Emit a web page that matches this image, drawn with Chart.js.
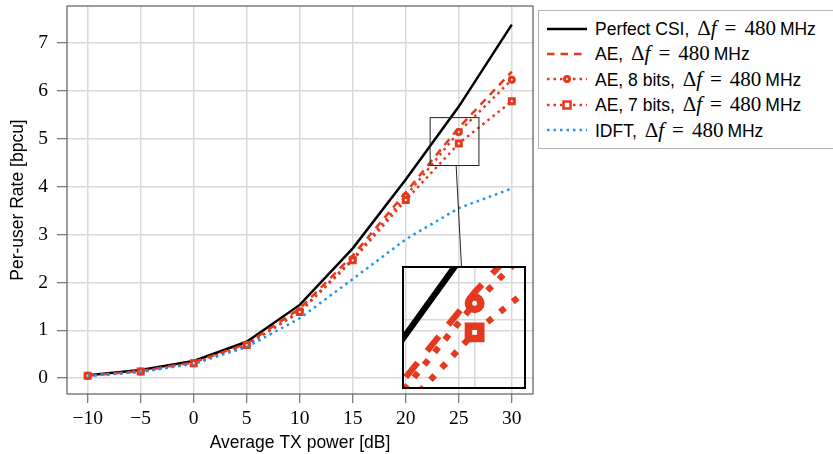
<!DOCTYPE html>
<html lang="en">
<head>
<meta charset="UTF-8" />
<title>Per-user Rate vs Average TX power</title>
<script src="https://cdn.jsdelivr.net/npm/chart.js"></script>
<style>
  body { margin: 0; width: 833px; height: 454px; overflow: hidden; background: #fff; position: relative; }
  #main { position: absolute; left: 0; top: 0; }
  #zoom { position: absolute; left: 401px; top: 265px; }
  #legend { position: absolute; left: 538px; top: 10px; width: 320px; height: 137px;
            border: 1px solid #b4b4b4; background: #fff;
            font-family: "Liberation Sans", Arial, sans-serif; font-size: 17.5px; color: #000; }
  .row { position: absolute; left: 0; height: 25px; display: flex; align-items: center; white-space: nowrap; }
  .row svg { margin-left: 8px; margin-right: 8px; }
  .m { font-family: "Liberation Serif", serif; font-size: 21px; margin-left: 3px; margin-right: 4px; }
  .eq { margin: 0 8px; }
</style>
</head>
<body>
<canvas id="main" width="833" height="454"></canvas>
<canvas id="zoom" width="126" height="125"></canvas>
<div id="legend"></div>

<script>
// data
const txPower = [-10, -5, 0, 5, 10, 15, 20, 25, 30];
const perfectCsi = [0.06, 0.17, 0.36, 0.76, 1.53, 2.71, 4.15, 5.67, 7.38];
const aeRate = [0.05, 0.15, 0.33, 0.72, 1.45, 2.56, 3.88, 5.23, 6.40];
const ae8Bits = [0.05, 0.14, 0.31, 0.70, 1.40, 2.49, 3.80, 5.14, 6.23];
const ae7Bits = [0.05, 0.14, 0.31, 0.69, 1.38, 2.46, 3.72, 4.90, 5.78];
const idftRate = [0.05, 0.13, 0.30, 0.65, 1.25, 2.07, 2.90, 3.55, 3.96];

const xTicks = [-10, -5, 0, 5, 10, 15, 20, 25, 30];
const yTicks = [0, 1, 2, 3, 4, 5, 6, 7];
const zoomX = [22.3, 26.9];   // magnified window
const zoomY = [4.44, 5.44];
const zoomXTicks = [25];
const zoomYTicks = [5];

const RED = '#e5391f';
const BLUE = '#1b95ef';
const SERIF = '"Liberation Serif", serif';
const SANS = '"Liberation Sans", Arial, sans-serif';

const pts = ys => txPower.map((x, i) => ({ x: x, y: ys[i] }));
const fmt = v => (v < 0 ? '\u2212' + Math.abs(v) : String(v));

// k = magnification (1 for main plot, 2.5 for the inset)
function makeDatasets(k, clip) {
  const dot = [2.5 * k, 4 * k];
  return [
    { label: 'Perfect CSI', data: pts(perfectCsi), borderColor: '#000', borderWidth: 2.5 * k,
      pointRadius: 0, order: 5, clip: clip },
    { label: 'AE', data: pts(aeRate), borderColor: RED, borderWidth: 2.5 * k, borderDash: [7.5 * k, 6 * k],
      pointRadius: 0, order: 4, clip: clip },
    { label: 'AE, 8 bits', data: pts(ae8Bits), borderColor: RED, borderWidth: 2.5 * k, borderDash: dot,
      pointStyle: 'circle', pointRadius: 2.5 * k, pointBorderWidth: 3 * k,
      pointBorderColor: RED, pointBackgroundColor: '#fff', order: 3, clip: clip },
    { label: 'AE, 7 bits', data: pts(ae7Bits), borderColor: RED, borderWidth: 2.5 * k, borderDash: dot,
      pointStyle: 'rect', pointRadius: 3.5 * k, pointBorderWidth: 3 * k,
      pointBorderColor: RED, pointBackgroundColor: '#fff', order: 2, clip: clip },
    { label: 'IDFT', data: pts(idftRate), borderColor: BLUE, borderWidth: 2.5 * k, borderDash: dot,
      pointRadius: 0, order: 1, clip: clip }
  ];
}

// frame around the plot, spy rectangle and the connector to the inset
const mainDeco = {
  id: 'mainDeco',
  afterDraw(chart) {
    const { ctx, chartArea: a, scales } = chart;
    ctx.save();
    ctx.strokeStyle = '#5c5c5c';
    ctx.lineWidth = 1.2;
    ctx.strokeRect(a.left, a.top, a.right - a.left, a.bottom - a.top);

    const x0 = scales.x.getPixelForValue(zoomX[0]), x1 = scales.x.getPixelForValue(zoomX[1]);
    const y0 = scales.y.getPixelForValue(zoomY[1]), y1 = scales.y.getPixelForValue(zoomY[0]);
    ctx.strokeStyle = '#222';
    ctx.lineWidth = 1;
    ctx.strokeRect(x0, y0, x1 - x0, y1 - y0);

    const z = document.getElementById('zoom');
    ctx.beginPath();
    ctx.moveTo(scales.x.getPixelForValue(24.75), y1);
    ctx.lineTo(z.offsetLeft + 2 + 58.5, z.offsetTop + 2);
    ctx.stroke();
    ctx.restore();
  }
};

const insetFrame = {
  id: 'insetFrame',
  afterDraw(chart) {
    const { ctx, chartArea: a } = chart;
    ctx.save();
    ctx.strokeStyle = '#000';
    ctx.lineWidth = 2;
    ctx.strokeRect(a.left, a.top, a.right - a.left, a.bottom - a.top);
    ctx.restore();
  }
};

function noPad(s) {
  s.paddingTop = 0; s.paddingBottom = 0; s.paddingLeft = 0; s.paddingRight = 0;
}

new Chart(document.getElementById('main'), {
  type: 'line',
  data: { datasets: makeDatasets(1, undefined) },
  options: {
    responsive: false,
    animation: false,
    layout: { padding: { left: 0, top: 6, right: 300, bottom: 0 }, autoPadding: false },
    plugins: { legend: { display: false }, tooltip: { enabled: false } },
    scales: {
      x: {
        type: 'linear', min: -11.95, max: 32,
        afterBuildTicks: s => { s.ticks = xTicks.map(v => ({ value: v })); },
        afterFit: s => { s.height = 60; noPad(s); },
        grid: { color: '#d9d9d9', lineWidth: 1.5, tickColor: '#555', tickLength: 9, tickWidth: 1 },
        border: { display: false },
        ticks: { autoSkip: false, maxRotation: 0, padding: 4, color: '#000',
                 font: { family: SERIF, size: 19.5 }, callback: v => fmt(v) },
        title: { display: true, text: 'Average TX power [dB]', color: '#000',
                 font: { family: SANS, size: 17.5 }, padding: { top: 0, bottom: 0 } }
      },
      y: {
        type: 'linear', min: -0.33, max: 7.77,
        afterBuildTicks: s => { s.ticks = yTicks.map(v => ({ value: v })); },
        afterFit: s => { s.width = 67; noPad(s); },
        grid: { color: '#d9d9d9', lineWidth: 1.5, tickColor: '#555', tickLength: 10, tickWidth: 1 },
        border: { display: false },
        ticks: { autoSkip: false, padding: 9, color: '#000',
                 font: { family: SERIF, size: 19.5 }, callback: v => fmt(v) },
        title: { display: true, text: 'Per-user Rate [bpcu]', color: '#000',
                 font: { family: SANS, size: 17.5 }, padding: { top: 8, bottom: 0 } }
      }
    }
  },
  plugins: [mainDeco]
});

// magnified inset
new Chart(document.getElementById('zoom'), {
  type: 'line',
  data: { datasets: makeDatasets(2.5, 0) },
  options: {
    responsive: false,
    animation: false,
    layout: { padding: 2, autoPadding: false },
    plugins: { legend: { display: false }, tooltip: { enabled: false } },
    scales: {
      x: {
        type: 'linear', min: zoomX[0], max: zoomX[1],
        afterBuildTicks: s => { s.ticks = zoomXTicks.map(v => ({ value: v })); },
        afterFit: s => { s.height = 0; noPad(s); },
        grid: { color: '#d9d9d9', lineWidth: 1.5, drawTicks: false },
        border: { display: false },
        ticks: { display: false }
      },
      y: {
        type: 'linear', min: zoomY[0], max: zoomY[1],
        afterBuildTicks: s => { s.ticks = zoomYTicks.map(v => ({ value: v })); },
        afterFit: s => { s.width = 0; noPad(s); },
        grid: { color: '#d9d9d9', lineWidth: 1.5, drawTicks: false },
        border: { display: false },
        ticks: { display: false }
      }
    }
  },
  plugins: [insetFrame]
});

// legend (mixed sans / math fonts, so built as html)
const legendItems = [
  { name: 'Perfect CSI', color: '#000', dash: '', marker: null },
  { name: 'AE', color: RED, dash: '7.5 6', marker: null },
  { name: 'AE, 8 bits', color: RED, dash: '2.5 4', marker: 'circle' },
  { name: 'AE, 7 bits', color: RED, dash: '2.5 4', marker: 'rect' },
  { name: 'IDFT', color: BLUE, dash: '2.5 4', marker: null }
];
const legend = document.getElementById('legend');
legendItems.forEach((it, i) => {
  let mk = '';
  if (it.marker === 'circle') mk = `<circle cx="20" cy="6" r="2.5" fill="#fff" stroke="${it.color}" stroke-width="3"/>`;
  if (it.marker === 'rect') mk = `<rect x="16.5" y="2.5" width="7" height="7" fill="#fff" stroke="${it.color}" stroke-width="2.5"/>`;
  const row = document.createElement('div');
  row.className = 'row';
  row.style.top = (5 + i * 25.4) + 'px';
  row.innerHTML =
    `<svg width="40" height="12"><line x1="0" y1="6" x2="40" y2="6" stroke="${it.color}" stroke-width="2.5"` +
    (it.dash ? ` stroke-dasharray="${it.dash}"` : '') + `/>${mk}</svg>` +
    `<span>${it.name},&nbsp;<span class="m">Δ<i>f</i><span class="eq">=</span>480</span>MHz</span>`;
  legend.appendChild(row);
});
</script>
</body>
</html>
